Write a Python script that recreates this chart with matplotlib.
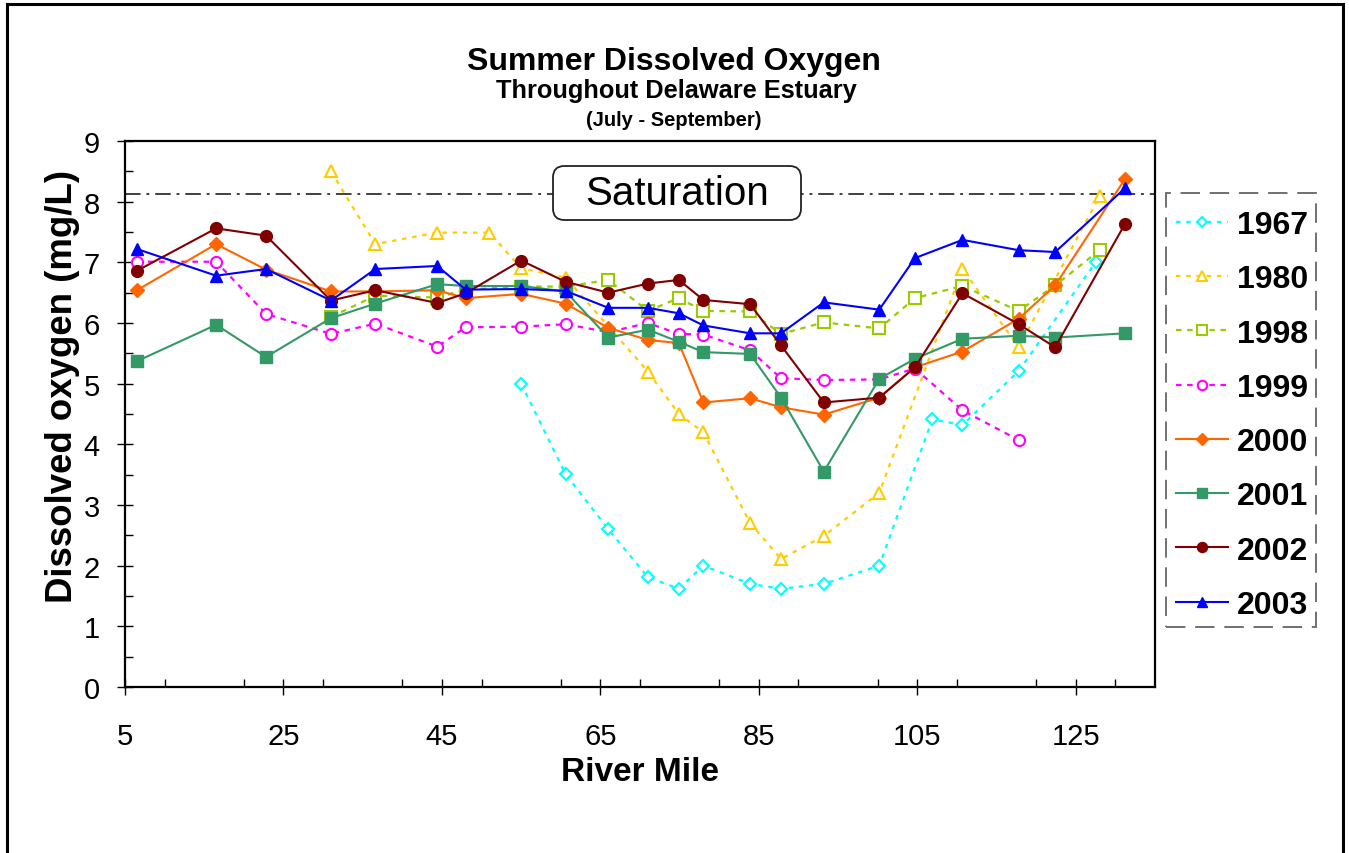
import matplotlib
matplotlib.use("Agg")
import matplotlib.pyplot as plt
from matplotlib.patches import FancyBboxPatch, Rectangle
from matplotlib.ticker import MultipleLocator

plt.rcParams['font.family'] = ['Liberation Sans', 'DejaVu Sans']

# ---------------- data ----------------
miles_main = [6.5, 16.5, 22.8, 31.0, 36.6, 44.4, 48.0, 55.0, 60.6, 66.0, 71.0,
              74.9, 78.0, 83.9, 87.8, 93.2, 100.2, 104.7, 110.7, 117.8, 122.4, 131.2]
do_2003 = [7.22, 6.78, 6.89, 6.37, 6.89, 6.94, 6.55, 6.56, 6.53, 6.25, 6.25,
           6.16, 5.96, 5.83, 5.83, 6.34, 6.22, 7.07, 7.37, 7.20, 7.17, 8.22]
do_2002 = [6.86, 7.56, 7.44, 6.37, 6.54, 6.33, 6.49, 7.03, 6.68, 6.50, 6.65,
           6.71, 6.38, 6.31, 5.63, 4.69, 4.77, 5.27, 6.49, 5.98, 5.60, 7.63]
do_2000 = [6.54, 7.30, 6.88, 6.52, 6.52, 6.54, 6.41, 6.48, 6.32, 5.92, 5.72,
           5.67, 4.69, 4.76, 4.61, 4.49, 4.77, 5.27, 5.53, 6.07, 6.62, 8.37]
do_2001 = [5.37, 5.97, 5.44, 6.08, 6.32, 6.64, 6.61, 6.61, 6.52, 5.76, 5.89,
           5.69, 5.52, 5.49, 4.77, 3.55, 5.08, 5.41, 5.74, 5.79, 5.76, 5.83]

miles_1999 = [6.5, 16.5, 22.8, 31.0, 36.6, 44.4, 48.0, 55.0, 60.6, 66.0, 71.0,
              74.9, 78.0, 83.9, 87.8, 93.2, 100.2, 104.7, 110.7, 117.8]
do_1999 = [7.01, 7.01, 6.15, 5.82, 5.99, 5.61, 5.93, 5.94, 5.98, 5.85, 6.00,
           5.82, 5.81, 5.55, 5.09, 5.06, 5.07, 5.25, 4.56, 4.07]

miles_1998 = [31.0, 36.6, 44.4, 48.0, 55.0, 60.6, 66.0, 71.0, 74.9, 78.0, 83.9,
              87.8, 93.2, 100.2, 104.7, 110.7, 117.8, 122.4, 128.0]
do_1998 = [6.10, 6.45, 6.42, 6.55, 6.60, 6.60, 6.71, 6.20, 6.41, 6.20, 6.19,
           5.82, 6.01, 5.91, 6.41, 6.61, 6.20, 6.62, 7.20]

miles_1980 = [31.0, 36.6, 44.4, 51.0, 55.0, 60.6, 71.0, 74.9, 78.0, 83.9, 87.8,
              93.2, 100.2, 110.7, 117.8, 128.0]
do_1980 = [8.50, 7.30, 7.49, 7.49, 6.90, 6.75, 5.20, 4.50, 4.20, 2.70, 2.11,
           2.49, 3.20, 6.89, 5.60, 8.09]

miles_1967 = [55.0, 60.6, 66.0, 71.0, 74.9, 78.0, 83.9, 87.8, 93.2, 100.2, 106.9,
              110.7, 117.8, 127.5]
do_1967 = [5.00, 3.51, 2.60, 1.81, 1.62, 2.00, 1.70, 1.62, 1.70, 2.00, 4.41,
           4.32, 5.21, 7.00]

saturation_level = 8.13
x_ticks = [5, 25, 45, 65, 85, 105, 125]
y_ticks = [0, 1, 2, 3, 4, 5, 6, 7, 8, 9]

# ---------------- figure ----------------
W, H = 1349, 854
fig = plt.figure(figsize=(W / 100, H / 100), dpi=100)
fig.patch.set_facecolor('white')

# outer border of the figure
fig.patches.append(Rectangle((7 / W, -0.05), (1343 - 7) / W, 1.05 - 5 / H,
                             transform=fig.transFigure, fill=False,
                             edgecolor='black', linewidth=2.2, zorder=0))

ax = fig.add_axes([125 / W, 1 - 688 / H, 1030 / W, 546 / H])
ax.set_xlim(5, 135)
ax.set_ylim(0, 9)

series = [
    ('1967', miles_1967, do_1967, dict(color='#00FFFF', ls=(0, (2, 2.6)), lw=1.6,
                                      marker='D', ms=6.5, mfc='white', mec='#00FFFF', mew=1.5)),
    ('1980', miles_1980, do_1980, dict(color='#FFCC00', ls=(0, (2, 2.6)), lw=1.6,
                                      marker='^', ms=8, mfc='white', mec='#FFCC00', mew=1.5)),
    ('1998', miles_1998, do_1998, dict(color='#99CC00', ls=(0, (2.5, 2.5)), lw=1.6,
                                      marker='s', ms=8, mfc='white', mec='#99CC00', mew=1.5)),
    ('1999', miles_1999, do_1999, dict(color='#FF00FF', ls=(0, (2.5, 2.5)), lw=1.6,
                                      marker='o', ms=8, mfc='white', mec='#FF00FF', mew=1.5)),
    ('2000', miles_main, do_2000, dict(color='#FF6600', ls='-', lw=1.5,
                                      marker='D', ms=7, mfc='#FF6600', mec='#FF6600')),
    ('2001', miles_main, do_2001, dict(color='#339966', ls='-', lw=1.5,
                                      marker='s', ms=8, mfc='#339966', mec='#339966')),
    ('2002', miles_main, do_2002, dict(color='#800000', ls='-', lw=1.5,
                                      marker='o', ms=8.5, mfc='#800000', mec='#800000')),
    ('2003', miles_main, do_2003, dict(color='#0000FF', ls='-', lw=1.5,
                                      marker='^', ms=9, mfc='#0000FF', mec='#0000FF')),
]

handles = []
for i, (lab, xs, ys, st) in enumerate(series):
    h, = ax.plot(xs, ys, label=lab, zorder=3 + i, **st)
    handles.append(h)

# saturation line and label
ax.axhline(saturation_level, color='#404040', lw=1.4, ls=(0, (8, 3, 1.5, 3)), zorder=2)
box = FancyBboxPatch((428 / 1030, (688 - 221) / 546), (801 - 553) / 1030, 54 / 546,
                     boxstyle='round,pad=0,rounding_size=0.011', mutation_aspect=1.89,
                     transform=ax.transAxes, facecolor='white', edgecolor='#222222',
                     linewidth=1.3, zorder=20)
ax.add_patch(box)
ax.text((677 - 125) / 1030, (688 - 194) / 546, 'Saturation', transform=ax.transAxes,
        ha='center', va='center', fontsize=29, zorder=21)

# axes styling
for sp in ax.spines.values():
    sp.set_linewidth(1.6)
    sp.set_color('black')
ax.set_xticks(x_ticks)
ax.set_yticks(y_ticks)
ax.xaxis.set_minor_locator(MultipleLocator(10))
ax.yaxis.set_minor_locator(MultipleLocator(0.5))
ax.tick_params(which='major', direction='inout', length=12, width=1.0,
               labelsize=21, pad=12)
ax.tick_params(axis='x', which='major', pad=19)
ax.tick_params(which='minor', direction='in', length=5.5, width=1.0)
ax.tick_params(top=False, right=False, which='both')

# titles & labels
fig.text(674 / W, 1 - 70 / H, 'Summer Dissolved Oxygen', ha='center', va='baseline',
         fontsize=23, fontweight='bold')
fig.text(676 / W, 1 - 98 / H, 'Throughout Delaware Estuary', ha='center', va='baseline',
         fontsize=18.3, fontweight='bold')
fig.text(674 / W, 1 - 126.5 / H, '(July - September)', ha='center', va='baseline',
         fontsize=14.5, fontweight='bold')
fig.text(640 / W, 1 - 781 / H, 'River Mile', ha='center', va='baseline',
         fontsize=24, fontweight='bold')
fig.text(62 / W, 1 - 386 / H, 'Dissolved oxygen (mg/L)', ha='center', va='center',
         rotation=90, fontsize=26.4, fontweight='bold')

# legend (entries) + separate dashed frame
leg = fig.legend(handles=handles, loc='upper left',
                 bbox_to_anchor=(1176 / W, 1 - 211 / H), bbox_transform=fig.transFigure,
                 borderaxespad=0, prop=dict(weight='bold', size=23),
                 frameon=False, labelspacing=0.76, handlelength=1.62,
                 handletextpad=0.3, borderpad=0.0, markerscale=0.85)
fig.patches.append(Rectangle((1166 / W, 1 - 628 / H), 150 / W, 434 / H,
                             transform=fig.transFigure, fill=False,
                             edgecolor='#707070', linewidth=1.4,
                             linestyle=(0, (10, 5)), zorder=1))

fig.savefig('out.png', dpi=100, facecolor='white')
